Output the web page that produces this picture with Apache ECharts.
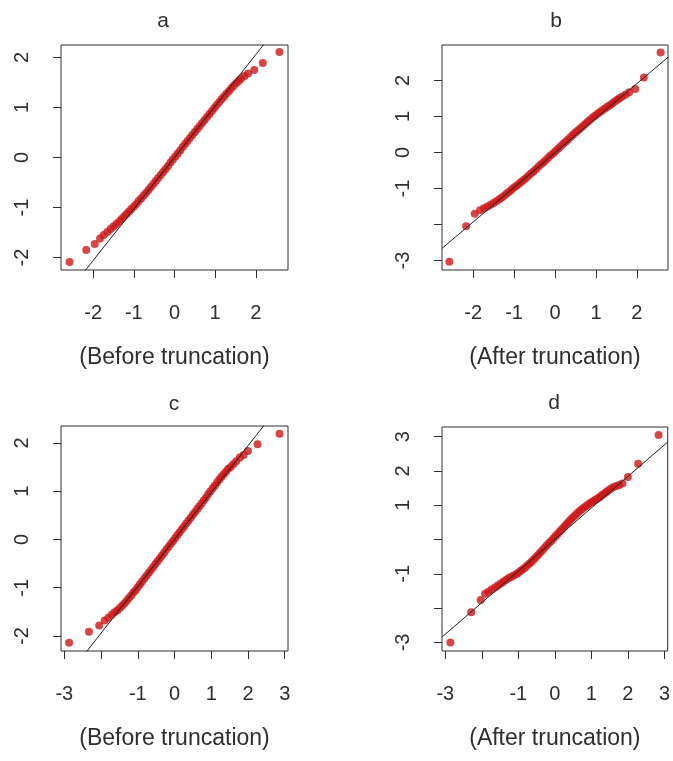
<!DOCTYPE html>
<html>
<head>
<meta charset="utf-8">
<title>Normal Q-Q plots</title>
<script src="https://cdn.jsdelivr.net/npm/echarts@6/dist/echarts.min.js"></script>
<style>
  html, body { margin: 0; padding: 0; background: #ffffff; }
  #chart { width: 673px; height: 761px; }
</style>
</head>
<body>
<div id="chart"></div>
<script>
// Panel letters and x-axis captions
const panelTitles = ['a', 'b', 'c', 'd'];
const panelCaptions = ['(Before truncation)', '(After truncation)', '(Before truncation)', '(After truncation)'];

// Axis extents (theoretical quantiles on x, sample quantiles on y)
const xMin = [-2.79, -2.76, -3.09, -3.09];
const xMax = [2.79, 2.76, 3.09, 3.09];
const yMin = [-2.25, -3.26, -2.31, -3.25];
const yMax = [2.25, 2.98, 2.35, 3.28];

// Tick positions and labelled ticks
const xTicks = [[-2, -1, 0, 1, 2], [-2, -1, 0, 1, 2], [-3, -2, -1, 0, 1, 2, 3], [-3, -2, -1, 0, 1, 2, 3]];
const xTickLabels = [[-2, -1, 0, 1, 2], [-2, -1, 0, 1, 2], [-3, -1, 0, 1, 2, 3], [-3, -1, 0, 1, 2, 3]];
const yTicks = [[-2, -1, 0, 1, 2], [-3, -2, -1, 0, 1, 2], [-2, -1, 0, 1, 2], [-3, -2, -1, 0, 1, 2, 3]];
const yTickLabels = [[-2, -1, 0, 1, 2], [-3, -1, 0, 1, 2], [-2, -1, 0, 1, 2], [-3, -1, 1, 2, 3]];

// Reference line (qqline) for each panel
const lineIntercept = [0.0, -0.01, 0.0, 0.0];
const lineSlope = [1.03, 0.96, 0.97, 0.92];

// Panel a: theoretical vs sample quantiles
const aX = [-2.58, -2.17, -1.96, -1.83, -1.74, -1.65, -1.57, -1.50, -1.43, -1.36, -1.30, -1.24, -1.18, -1.12, -1.06,
  -1.00, -0.94, -0.88, -0.82, -0.76, -0.70, -0.64, -0.58, -0.52, -0.46, -0.40, -0.34, -0.28, -0.22, -0.16, -0.10, -0.04,
  0.02, 0.08, 0.14, 0.20, 0.26, 0.32, 0.38, 0.44, 0.50, 0.56, 0.62, 0.68, 0.74, 0.80, 0.86, 0.92, 0.98,
  1.04, 1.10, 1.16, 1.22, 1.28, 1.34, 1.40, 1.46, 1.52, 1.58, 1.64, 1.72, 1.81, 1.96, 2.17, 2.58];
const aY = [-2.09, -1.85, -1.73, -1.62, -1.55, -1.49, -1.43, -1.38, -1.33, -1.28, -1.23, -1.18, -1.13, -1.08, -1.03,
  -0.98, -0.93, -0.87, -0.82, -0.76, -0.71, -0.65, -0.59, -0.53, -0.47, -0.41, -0.35, -0.29, -0.23, -0.17, -0.10, -0.04,
  0.02, 0.08, 0.14, 0.21, 0.27, 0.33, 0.39, 0.45, 0.51, 0.57, 0.63, 0.69, 0.75, 0.81, 0.87, 0.93, 0.99,
  1.05, 1.11, 1.17, 1.22, 1.28, 1.33, 1.39, 1.44, 1.49, 1.53, 1.58, 1.63, 1.68, 1.75, 1.89, 2.11];

// Panel b
const bX = [-2.58, -2.17, -1.96, -1.83, -1.74, -1.65, -1.57, -1.50, -1.43, -1.36, -1.30, -1.24, -1.18, -1.12, -1.06,
  -1.00, -0.94, -0.88, -0.82, -0.76, -0.70, -0.64, -0.58, -0.52, -0.46, -0.40, -0.34, -0.28, -0.22, -0.16, -0.10, -0.04,
  0.02, 0.08, 0.14, 0.20, 0.26, 0.32, 0.38, 0.44, 0.50, 0.56, 0.62, 0.68, 0.74, 0.80, 0.86, 0.92, 0.98,
  1.04, 1.10, 1.16, 1.22, 1.28, 1.34, 1.40, 1.46, 1.52, 1.58, 1.64, 1.72, 1.81, 1.96, 2.17, 2.58];
const bY = [-3.03, -2.05, -1.70, -1.60, -1.55, -1.50, -1.45, -1.40, -1.35, -1.30, -1.25, -1.20, -1.14, -1.09, -1.03,
  -0.97, -0.92, -0.87, -0.81, -0.76, -0.70, -0.64, -0.58, -0.52, -0.46, -0.39, -0.33, -0.27, -0.21, -0.14, -0.08, -0.02,
  0.05, 0.11, 0.17, 0.24, 0.30, 0.36, 0.43, 0.49, 0.55, 0.61, 0.67, 0.73, 0.79, 0.85, 0.91, 0.97, 1.02,
  1.07, 1.12, 1.17, 1.22, 1.27, 1.31, 1.36, 1.41, 1.46, 1.50, 1.55, 1.60, 1.67, 1.76, 2.08, 2.77];

// Panel c
const cX = [-2.87, -2.33, -2.05, -1.90, -1.80, -1.71, -1.63, -1.56, -1.49, -1.42, -1.36, -1.30, -1.24, -1.18, -1.12, -1.06,
  -1.00, -0.94, -0.88, -0.82, -0.76, -0.70, -0.64, -0.58, -0.52, -0.46, -0.40, -0.34, -0.28, -0.22, -0.16, -0.10, -0.04,
  0.02, 0.08, 0.14, 0.20, 0.26, 0.32, 0.38, 0.44, 0.50, 0.56, 0.62, 0.68, 0.74, 0.80, 0.86, 0.92, 0.98,
  1.04, 1.10, 1.16, 1.22, 1.28, 1.34, 1.40, 1.46, 1.53, 1.60, 1.68, 1.78, 1.88, 2.00, 2.26, 2.86];
const cY = [-2.14, -1.91, -1.78, -1.68, -1.62, -1.56, -1.51, -1.47, -1.42, -1.37, -1.32, -1.27, -1.21, -1.16, -1.10, -1.05,
  -0.99, -0.93, -0.87, -0.81, -0.75, -0.69, -0.63, -0.57, -0.51, -0.45, -0.39, -0.33, -0.27, -0.21, -0.15, -0.09, -0.03,
  0.03, 0.09, 0.15, 0.21, 0.27, 0.33, 0.39, 0.45, 0.51, 0.57, 0.63, 0.69, 0.75, 0.81, 0.87, 0.94, 1.00,
  1.06, 1.12, 1.18, 1.24, 1.30, 1.35, 1.40, 1.46, 1.50, 1.56, 1.62, 1.70, 1.75, 1.83, 1.97, 2.19];

// Panel d
const dX = [-2.86, -2.29, -2.03, -1.91, -1.82, -1.73, -1.64, -1.56, -1.48, -1.41, -1.34, -1.27, -1.20, -1.13, -1.06,
  -1.00, -0.94, -0.88, -0.82, -0.76, -0.70, -0.64, -0.58, -0.52, -0.46, -0.40, -0.34, -0.28, -0.22, -0.16, -0.10, -0.04,
  0.02, 0.08, 0.14, 0.20, 0.26, 0.32, 0.38, 0.44, 0.50, 0.56, 0.62, 0.68, 0.74, 0.80, 0.86, 0.92, 0.98,
  1.04, 1.10, 1.16, 1.22, 1.28, 1.34, 1.40, 1.46, 1.53, 1.60, 1.68, 1.76, 1.85, 2.00, 2.28, 2.84];
const dY = [-3.00, -2.12, -1.76, -1.58, -1.52, -1.46, -1.40, -1.34, -1.28, -1.23, -1.18, -1.13, -1.09, -1.05, -1.01,
  -0.97, -0.92, -0.87, -0.82, -0.76, -0.71, -0.65, -0.58, -0.52, -0.45, -0.38, -0.31, -0.24, -0.17, -0.10, -0.04, 0.03,
  0.10, 0.17, 0.24, 0.31, 0.38, 0.45, 0.52, 0.59, 0.65, 0.71, 0.77, 0.83, 0.88, 0.93, 0.98, 1.03, 1.07,
  1.11, 1.15, 1.19, 1.23, 1.28, 1.33, 1.38, 1.43, 1.48, 1.52, 1.56, 1.59, 1.63, 1.82, 2.21, 3.05];

const sampleX = [aX, bX, cX, dX];
const sampleY = [aY, bY, cY, dY];

// Plot-region boxes, in pixels
const boxes = [
  { left: 61, top: 45, width: 227, height: 225 },
  { left: 442, top: 45, width: 226, height: 225 },
  { left: 61, top: 426, width: 227, height: 225 },
  { left: 442, top: 427, width: 226, height: 224 }
];

const FONT = '"Liberation Sans", Arial, Helvetica, sans-serif';
const INK = '#2e2e2e';
const POINT = '#cc1818';

const grids = [], xAxes = [], yAxes = [], series = [], graphics = [];

for (let i = 0; i < 4; i++) {
  const b = boxes[i];
  grids.push({
    left: b.left, top: b.top, width: b.width, height: b.height,
    show: true, borderColor: INK, borderWidth: 1, backgroundColor: 'transparent'
  });

  xAxes.push({
    type: 'value', gridIndex: i, min: xMin[i], max: xMax[i],
    position: 'bottom',
    axisLine: { show: false, onZero: false },
    splitLine: { show: false },
    axisTick: { show: true, length: 8, customValues: xTicks[i], lineStyle: { color: INK, width: 1 } },
    axisLabel: { customValues: xTickLabels[i], margin: 33, fontSize: 20, color: INK, fontFamily: FONT },
    name: panelCaptions[i], nameLocation: 'middle', nameGap: 76,
    nameTextStyle: { fontSize: 23, color: INK, fontFamily: FONT }
  });

  yAxes.push({
    type: 'value', gridIndex: i, min: yMin[i], max: yMax[i],
    position: 'left',
    axisLine: { show: false, onZero: false },
    splitLine: { show: false },
    axisTick: { show: true, length: 8, customValues: yTicks[i], lineStyle: { color: INK, width: 1 } },
    axisLabel: { customValues: yTickLabels[i], rotate: 90, margin: 29, fontSize: 20, color: INK, fontFamily: FONT }
  });

  series.push({
    type: 'scatter', xAxisIndex: i, yAxisIndex: i,
    symbol: 'circle', symbolSize: 8,
    itemStyle: { color: POINT },
    silent: true, z: 2,
    data: sampleX[i].map((x, k) => [x, sampleY[i][k]])
  });

  // qqline spans the full x extent and is clipped by the plot box
  series.push({
    type: 'line', xAxisIndex: i, yAxisIndex: i,
    clip: true, symbol: 'none', silent: true, z: 3,
    lineStyle: { color: '#222222', width: 1 },
    data: [
      [xMin[i], lineIntercept[i] + lineSlope[i] * xMin[i]],
      [xMax[i], lineIntercept[i] + lineSlope[i] * xMax[i]]
    ]
  });
}

// Panel letters above each box
const titlePos = [[163, 21], [556, 21], [174, 404], [554, 403]];
for (let i = 0; i < 4; i++) {
  graphics.push({
    type: 'text', x: titlePos[i][0], y: titlePos[i][1], silent: true,
    style: { text: panelTitles[i], fontSize: 21, fontFamily: FONT, fill: INK, textAlign: 'center', textVerticalAlign: 'middle' }
  });
}

const chart = echarts.init(document.getElementById('chart'), null, { renderer: 'canvas' });
chart.setOption({
  animation: false,
  backgroundColor: '#ffffff',
  grid: grids,
  xAxis: xAxes,
  yAxis: yAxes,
  series: series,
  graphic: graphics
});
</script>
</body>
</html>
